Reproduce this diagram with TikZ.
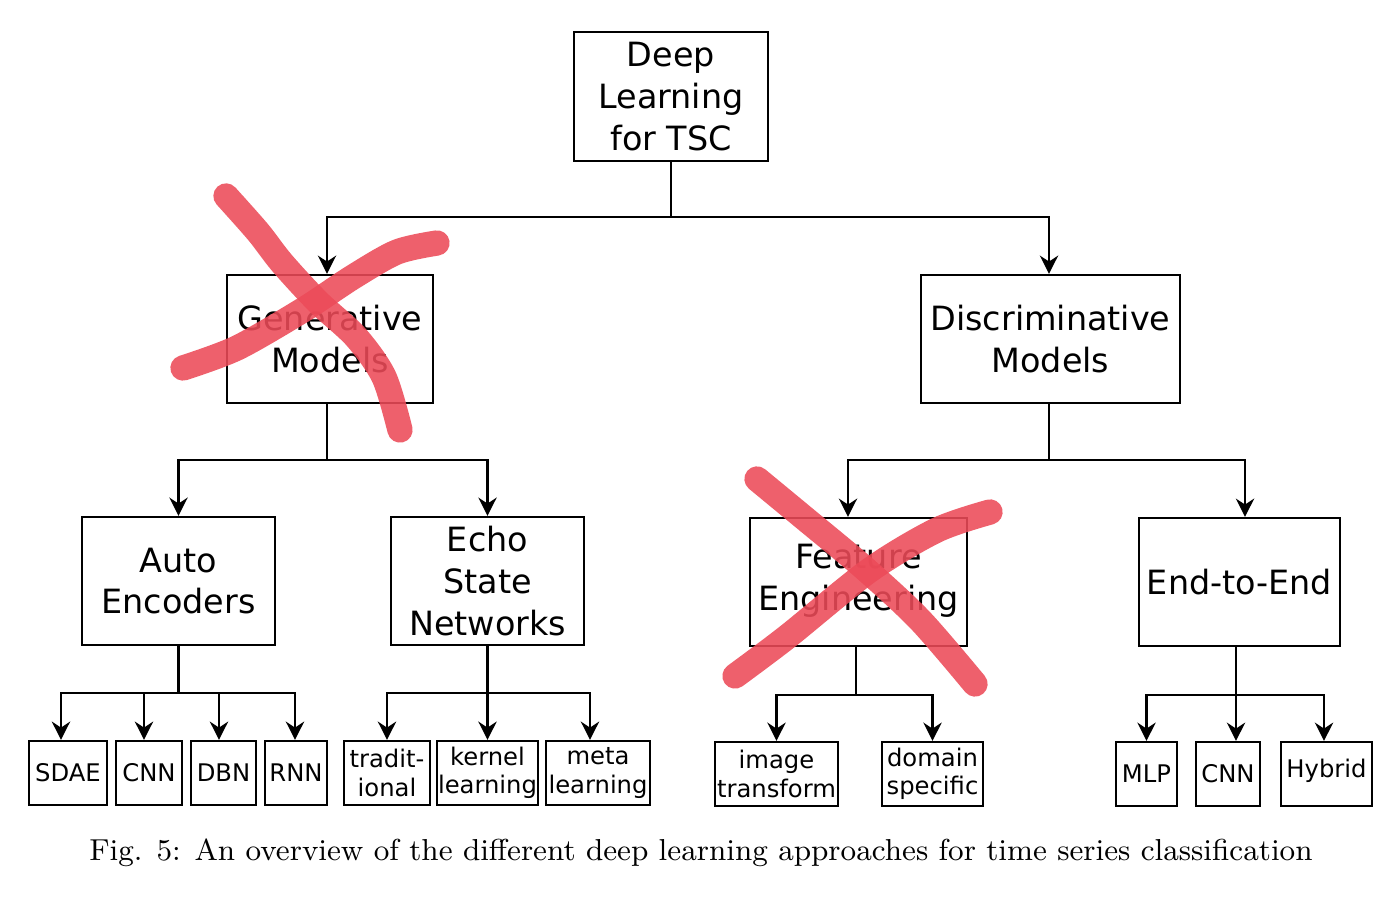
\documentclass[tikz,border=0pt]{standalone}
\usepackage{fontspec}
\newfontfamily\dejavu{DejaVu Sans}
\usetikzlibrary{arrows.meta}
\definecolor{crossred}{RGB}{236,74,88}
\tikzset{
  box/.style={draw=black, line width=0.6pt, inner sep=0pt, align=center, font=\dejavu\fontsize{9.5}{11.9}\selectfont},
  leaf/.style={box, minimum height=0.64cm, font=\dejavu\fontsize{6.9}{8.0}\selectfont},
  conn/.style={line width=0.6pt, draw=black},
  arr/.style={conn, -{Stealth[length=5.2pt,width=5.2pt]}},
  cross/.style={draw=crossred, opacity=0.88, line width=7.2pt, line cap=round, line join=round}
}
\begin{document}
\begin{tikzpicture}[x=0.01cm, y=-0.01cm]
\useasboundingbox (0,0) rectangle (1400,901);
% main boxes
\node[box, minimum width=1.94cm, minimum height=1.29cm] (root) at (671,96.5) {Deep\\Learning\\for TSC};
\node[box, minimum width=2.06cm, minimum height=1.28cm] (gen) at (330,339) {Generative\\Models};
\node[box, minimum width=2.59cm, minimum height=1.28cm] (disc) at (1050.5,339) {Discriminative\\Models};
\node[box, minimum width=1.93cm, minimum height=1.28cm] (ae) at (178.5,581) {Auto\\Encoders};
\node[box, minimum width=1.93cm, minimum height=1.28cm] (esn) at (487.5,581) {Echo\\State\\Networks};
\node[box, minimum width=2.17cm, minimum height=1.28cm, text depth=0.1cm] (fe) at (858.5,582) {Feature\\Engineering};
\node[box, minimum width=2.01cm, minimum height=1.28cm] (e2e) at (1239.5,582) {End-to-End};
% leaves
\node[leaf, minimum width=0.78cm] (sdae) at (68,773) {SDAE};
\node[leaf, minimum width=0.66cm] (cnna) at (149,773) {CNN};
\node[leaf, minimum width=0.65cm] (dbn) at (223.5,773) {DBN};
\node[leaf, minimum width=0.62cm] (rnn) at (296,773) {RNN};
\node[leaf, minimum width=0.86cm] (trad) at (387,773) {tradit-\\ional};
\node[leaf, minimum width=1.01cm] (kern) at (487.5,773) {kernel\\learning};
\node[leaf, minimum width=1.04cm] (meta) at (598,773) {meta\\learning};
\node[leaf, minimum width=1.23cm] (img) at (776.5,774) {image\\transform};
\node[leaf, minimum width=1.01cm] (dom) at (932.5,774) {domain\\specific};
\node[leaf, minimum width=0.61cm] (mlp) at (1146.5,774) {MLP};
\node[leaf, minimum width=0.64cm] (cnnb) at (1228,774) {CNN};
\node[leaf, minimum width=0.91cm, text depth=0.12cm] (hyb) at (1326.5,774) {Hybrid};
% bus coordinates
\coordinate (b1) at (0,217);
\coordinate (b2) at (0,460);
\coordinate (b3) at (0,693);
\coordinate (b4) at (0,695);
% level 1
\draw[conn] (root.south) -- (root.south |- b1);
\draw[arr] (root.south |- b1) -| ([xshift=-0.03cm]gen.north);
\draw[arr] (root.south |- b1) -| ([xshift=-0.015cm]disc.north);
% level 2
\draw[conn] ([xshift=-0.03cm]gen.south) -- ([xshift=-0.03cm]gen.south |- b2);
\draw[arr] ([xshift=-0.03cm]gen.south |- b2) -| (ae.north);
\draw[arr] ([xshift=-0.03cm]gen.south |- b2) -| (esn.north);
\draw[conn] ([xshift=-0.015cm]disc.south) -- ([xshift=-0.015cm]disc.south |- b2);
\draw[arr] ([xshift=-0.015cm]disc.south |- b2) -| ([xshift=-0.105cm]fe.north);
\draw[arr] ([xshift=-0.015cm]disc.south |- b2) -| ([xshift=0.055cm]e2e.north);
% level 3: auto encoders
\draw[conn] (ae.south) -- (ae.south |- b3);
\draw[arr] (ae.south |- b3) -| ([xshift=-0.07cm]sdae.north);
\draw[arr] (ae.south |- b3) -| ([xshift=-0.05cm]cnna.north);
\draw[arr] (ae.south |- b3) -| ([xshift=-0.045cm]dbn.north);
\draw[arr] (ae.south |- b3) -| ([xshift=-0.01cm]rnn.north);
% echo state
\draw[arr] (esn.south) -- (kern.north);
\draw[arr] (esn.south |- b3) -| (trad.north);
\draw[arr] (esn.south |- b3) -| ([xshift=-0.08cm]meta.north);
% feature engineering
\draw[conn] ([xshift=-0.025cm]fe.south) -- ([xshift=-0.025cm]fe.south |- b4);
\draw[arr] ([xshift=-0.025cm]fe.south |- b4) -| (img.north);
\draw[arr] ([xshift=-0.025cm]fe.south |- b4) -| (dom.north);
% end-to-end
\draw[arr] ([xshift=-0.035cm]e2e.south) -- ([xshift=-0.035cm]e2e.south |- cnnb.north);
\draw[arr] ([xshift=-0.035cm]e2e.south |- b4) -| (mlp.north);
\draw[arr] ([xshift=-0.035cm]e2e.south |- b4) -| ([xshift=-0.025cm]hyb.north);
% red crosses
\draw[cross] plot[smooth] coordinates {(226,196) (258,232) (282,263) (318,302) (356,337) (384,377) (400,430)};
\draw[cross] plot[smooth] coordinates {(183,368) (237,348) (303,310) (353,277) (397,252) (437,243)};
\draw[cross] plot[smooth] coordinates {(757,479) (803,517) (863,567) (920,620) (975,684)};
\draw[cross] plot[smooth] coordinates {(735,676) (787,637) (870,570) (937,530) (990,512)};
% caption
\node[font=\fontsize{8.62}{10}\selectfont, inner sep=0pt] (cap) at (701,853) {Fig. 5: An overview of the different deep learning approaches for time series classification};
\end{tikzpicture}
\end{document}
